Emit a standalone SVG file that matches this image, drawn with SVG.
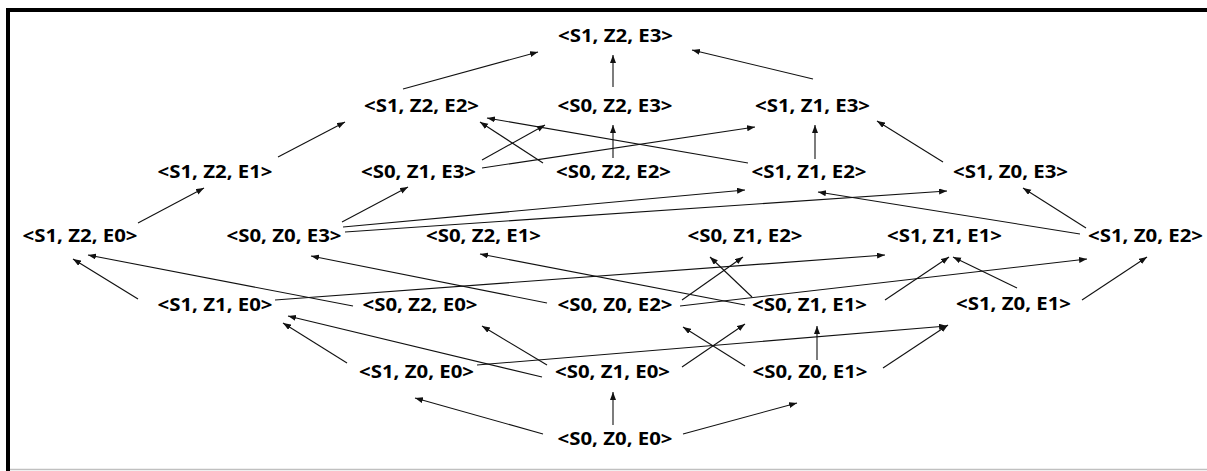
<svg xmlns="http://www.w3.org/2000/svg" width="1207" height="471" viewBox="0 0 1207 471">
<style>
  text { font-family: "Open Sans", "Liberation Sans", sans-serif; font-weight: 700; font-size: 17.5px; fill: #000; text-anchor: middle; }
  .c line { stroke: #111; stroke-width: 1.1; fill: none; marker-end: url(#ah); }
</style>
<defs>
  <marker id="ah" markerUnits="userSpaceOnUse" markerWidth="9" markerHeight="7" refX="8" refY="3" orient="auto">
    <path d="M0,0 L8,3 L0,6 z" fill="#111"/>
  </marker>
</defs>
<rect x="0" y="0" width="1207" height="471" fill="#fff"/>
<g id="frame">
  <rect x="6" y="8" width="1201" height="4" fill="#000"/>
  <rect x="6" y="8" width="4" height="463" fill="#000"/>
  <line x1="10" y1="469.5" x2="1207" y2="469.5" stroke="#c0c0c0" stroke-width="1.5"/>
</g>
<g id="connectors" class="c">
  <line x1="403" y1="89" x2="538" y2="52"/>
  <line x1="613" y1="87" x2="613" y2="55"/>
  <line x1="813" y1="79" x2="692" y2="50"/>
  <line x1="278" y1="157" x2="345" y2="122"/>
  <line x1="138" y1="223" x2="204" y2="188"/>
  <line x1="342" y1="222" x2="408" y2="187"/>
  <line x1="343" y1="227" x2="745" y2="190"/>
  <line x1="345" y1="232" x2="947" y2="191"/>
  <line x1="482" y1="160" x2="545" y2="125"/>
  <line x1="482" y1="168" x2="755" y2="127"/>
  <line x1="543" y1="163" x2="480" y2="122"/>
  <line x1="613" y1="158" x2="613" y2="125"/>
  <line x1="748" y1="163" x2="487" y2="118"/>
  <line x1="815" y1="159" x2="815" y2="125"/>
  <line x1="943" y1="162" x2="877" y2="121"/>
  <line x1="1086" y1="228" x2="1023" y2="188"/>
  <line x1="1080" y1="234" x2="818" y2="192"/>
  <line x1="138" y1="299" x2="73" y2="259"/>
  <line x1="353" y1="306" x2="88" y2="255"/>
  <line x1="275" y1="300" x2="885" y2="255"/>
  <line x1="547" y1="303" x2="311" y2="256"/>
  <line x1="542" y1="377" x2="288" y2="316"/>
  <line x1="347" y1="363" x2="283" y2="323"/>
  <line x1="745" y1="305" x2="480" y2="254"/>
  <line x1="682" y1="300" x2="743" y2="257"/>
  <line x1="752" y1="297" x2="710" y2="257"/>
  <line x1="680" y1="306" x2="1087" y2="259"/>
  <line x1="477" y1="365" x2="947" y2="326"/>
  <line x1="547" y1="365" x2="482" y2="326"/>
  <line x1="682" y1="367" x2="745" y2="324"/>
  <line x1="745" y1="366" x2="683" y2="327"/>
  <line x1="543" y1="434" x2="415" y2="398"/>
  <line x1="613" y1="425" x2="613" y2="392"/>
  <line x1="683" y1="434" x2="797" y2="403"/>
  <line x1="885" y1="300" x2="949" y2="257"/>
  <line x1="1017" y1="288" x2="953" y2="257"/>
  <line x1="1082" y1="300" x2="1147" y2="257"/>
  <line x1="817" y1="360" x2="817" y2="326"/>
  <line x1="883" y1="368" x2="948" y2="325"/>
</g>
<g id="n-S1Z2E3"><text x="615.5" y="42" textLength="115" lengthAdjust="spacingAndGlyphs">&lt;S1, Z2, E3&gt;</text></g>
<g id="n-S1Z2E2"><text x="421.5" y="112" textLength="115" lengthAdjust="spacingAndGlyphs">&lt;S1, Z2, E2&gt;</text></g>
<g id="n-S0Z2E3"><text x="615" y="112" textLength="115" lengthAdjust="spacingAndGlyphs">&lt;S0, Z2, E3&gt;</text></g>
<g id="n-S1Z1E3"><text x="812.5" y="112" textLength="115" lengthAdjust="spacingAndGlyphs">&lt;S1, Z1, E3&gt;</text></g>
<g id="n-S1Z2E1"><text x="215" y="178" textLength="115" lengthAdjust="spacingAndGlyphs">&lt;S1, Z2, E1&gt;</text></g>
<g id="n-S0Z1E3"><text x="418.5" y="178" textLength="115" lengthAdjust="spacingAndGlyphs">&lt;S0, Z1, E3&gt;</text></g>
<g id="n-S0Z2E2"><text x="613.5" y="178" textLength="115" lengthAdjust="spacingAndGlyphs">&lt;S0, Z2, E2&gt;</text></g>
<g id="n-S1Z1E2"><text x="809" y="178" textLength="115" lengthAdjust="spacingAndGlyphs">&lt;S1, Z1, E2&gt;</text></g>
<g id="n-S1Z0E3"><text x="1010.5" y="178" textLength="115" lengthAdjust="spacingAndGlyphs">&lt;S1, Z0, E3&gt;</text></g>
<g id="n-S1Z2E0"><text x="80" y="242" textLength="115" lengthAdjust="spacingAndGlyphs">&lt;S1, Z2, E0&gt;</text></g>
<g id="n-S0Z0E3"><text x="284" y="242" textLength="115" lengthAdjust="spacingAndGlyphs">&lt;S0, Z0, E3&gt;</text></g>
<g id="n-S0Z2E1"><text x="483.5" y="242" textLength="115" lengthAdjust="spacingAndGlyphs">&lt;S0, Z2, E1&gt;</text></g>
<g id="n-S0Z1E2"><text x="745" y="242" textLength="115" lengthAdjust="spacingAndGlyphs">&lt;S0, Z1, E2&gt;</text></g>
<g id="n-S1Z1E1"><text x="944.5" y="242" textLength="115" lengthAdjust="spacingAndGlyphs">&lt;S1, Z1, E1&gt;</text></g>
<g id="n-S1Z0E2"><text x="1145.5" y="242" textLength="115" lengthAdjust="spacingAndGlyphs">&lt;S1, Z0, E2&gt;</text></g>
<g id="n-S1Z1E0"><text x="215" y="311" textLength="115" lengthAdjust="spacingAndGlyphs">&lt;S1, Z1, E0&gt;</text></g>
<g id="n-S0Z2E0"><text x="420" y="311" textLength="115" lengthAdjust="spacingAndGlyphs">&lt;S0, Z2, E0&gt;</text></g>
<g id="n-S0Z0E2"><text x="615" y="311" textLength="115" lengthAdjust="spacingAndGlyphs">&lt;S0, Z0, E2&gt;</text></g>
<g id="n-S0Z1E1"><text x="809.5" y="311" textLength="115" lengthAdjust="spacingAndGlyphs">&lt;S0, Z1, E1&gt;</text></g>
<g id="n-S1Z0E1"><text x="1013.5" y="310" textLength="115" lengthAdjust="spacingAndGlyphs">&lt;S1, Z0, E1&gt;</text></g>
<g id="n-S1Z0E0"><text x="416.5" y="378" textLength="115" lengthAdjust="spacingAndGlyphs">&lt;S1, Z0, E0&gt;</text></g>
<g id="n-S0Z1E0"><text x="612.5" y="378" textLength="115" lengthAdjust="spacingAndGlyphs">&lt;S0, Z1, E0&gt;</text></g>
<g id="n-S0Z0E1"><text x="810" y="378" textLength="115" lengthAdjust="spacingAndGlyphs">&lt;S0, Z0, E1&gt;</text></g>
<g id="n-S0Z0E0"><text x="615" y="445" textLength="115" lengthAdjust="spacingAndGlyphs">&lt;S0, Z0, E0&gt;</text></g>
</svg>
